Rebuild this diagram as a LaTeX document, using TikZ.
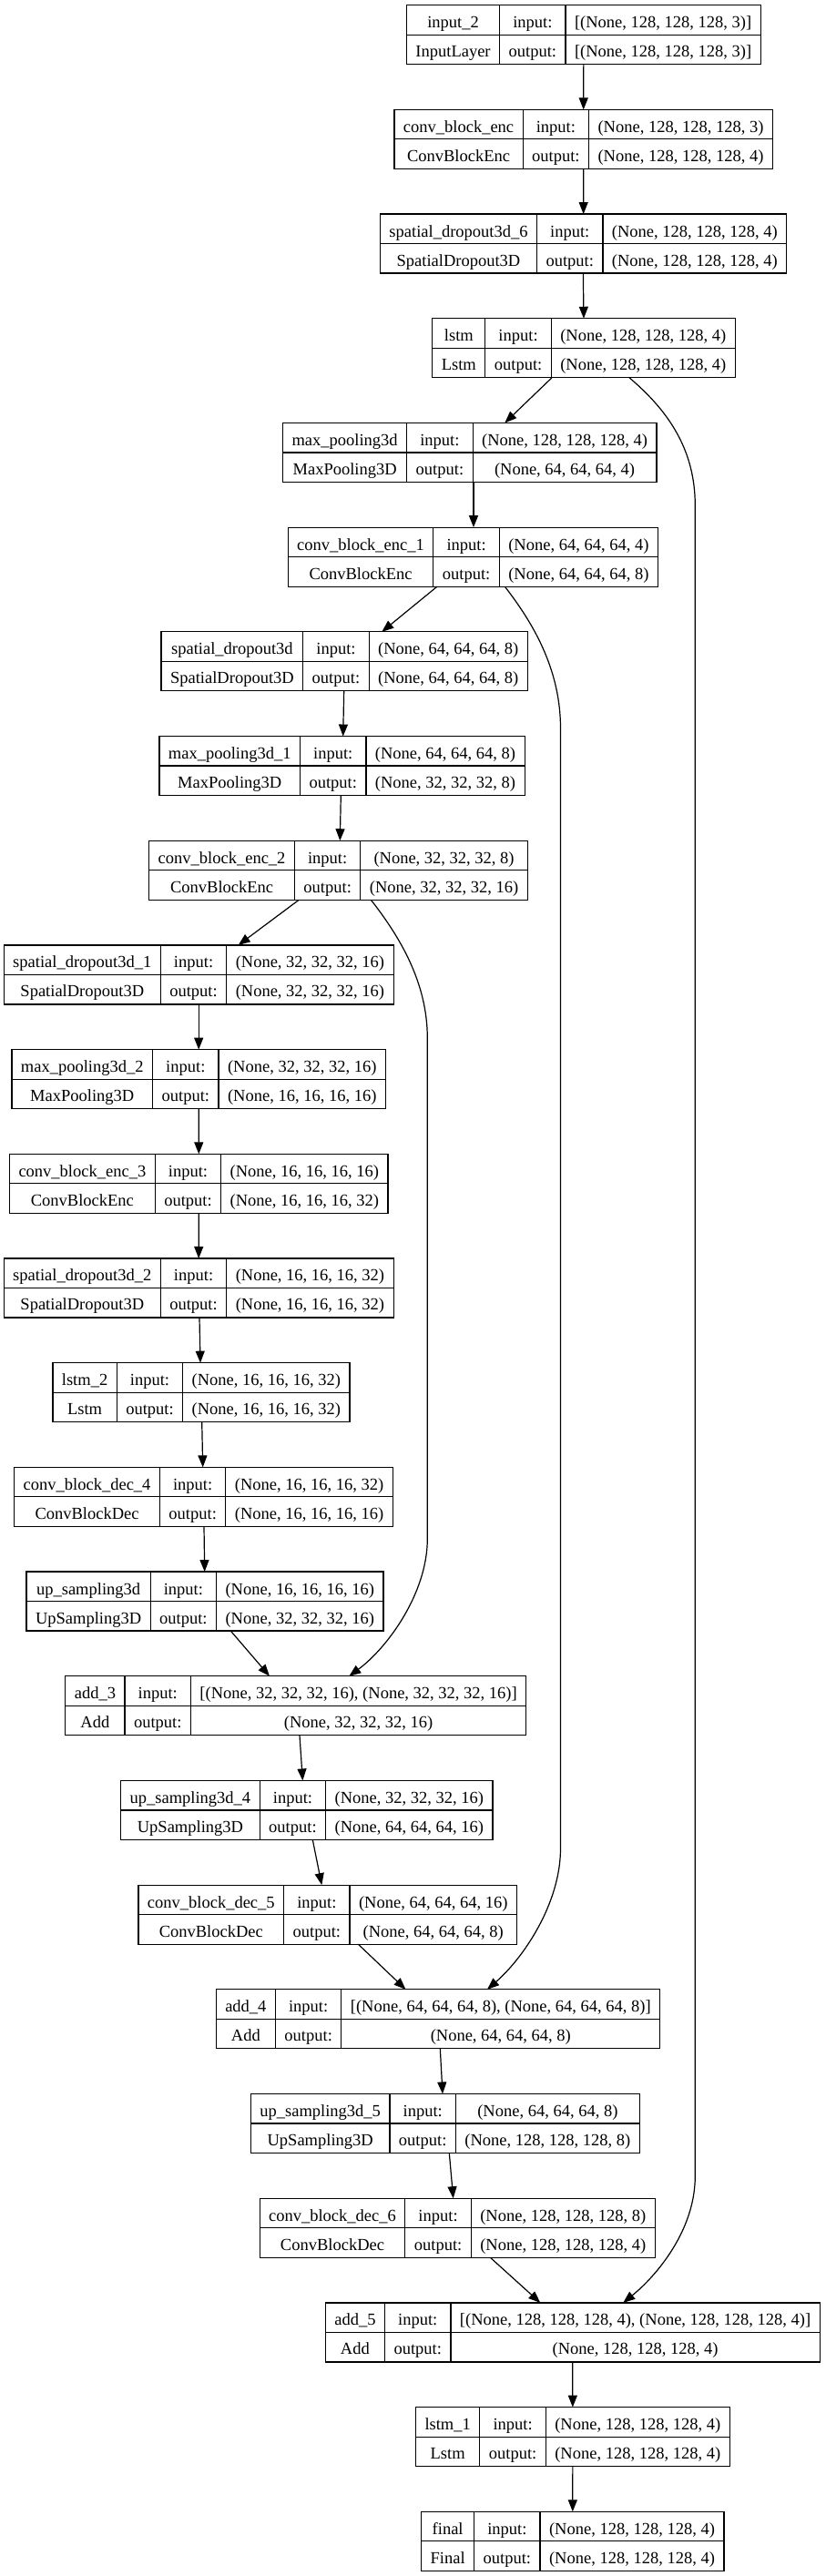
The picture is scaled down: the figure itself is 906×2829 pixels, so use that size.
\documentclass[tikz,border=0pt]{standalone}
\usepackage{fontspec}
\setmainfont{Liberation Serif}
\usetikzlibrary{arrows.meta}
\newlength\LwA \newlength\LwB \newlength\LwC \newlength\LwT \newlength\LwO
\newcommand\lfont{\fontsize{18.5}{22}\selectfont}
\tikzset{
  cell/.style={draw=black, line width=1.2pt},
  txt/.style={font=\lfont, inner sep=0pt, anchor=base},
  boxnode/.style={draw=black, line width=1.2pt, inner sep=0pt, outer sep=0pt, fill=white},
  edge/.style={draw=black, line width=1.2pt, -{Triangle[length=13pt,width=10pt]}},
}
% store texts and measure column widths (outside the picture)
\newcommand\layerdef[5]{%
  \expandafter\def\csname TN#1\endcsname{#2}%
  \expandafter\def\csname TC#1\endcsname{#3}%
  \expandafter\def\csname TI#1\endcsname{#4}%
  \expandafter\def\csname TO#1\endcsname{#5}%
  \settowidth\LwA{\lfont #2}\settowidth\LwB{\lfont #3}%
  \ifdim\LwB>\LwA \LwA=\LwB\fi
  \advance\LwA by 20pt
  \settowidth\LwC{\lfont #4}\settowidth\LwB{\lfont #5}%
  \ifdim\LwB>\LwC \LwC=\LwB\fi
  \advance\LwC by 20pt
  \expandafter\xdef\csname WA#1\endcsname{\the\LwA}%
  \expandafter\xdef\csname WC#1\endcsname{\the\LwC}%
}
% draw a layer box inside the picture
\newcommand\layer[3]{%
  \LwA=\csname WA#1\endcsname\relax
  \LwC=\csname WC#1\endcsname\relax
  \LwB=\LwO
  \LwT=\LwA \advance\LwT by \LwB \advance\LwT by \LwC
  \pgfmathsetmacro\Ltop{5.7+114.69*#3}%
  \pgfmathsetmacro\Lx{#2-0.5*\LwT}%
  \pgfmathsetmacro\La{\Lx+\LwA}%
  \pgfmathsetmacro\Lb{\La+\LwB}%
  \pgfmathsetmacro\Lc{\Lx+\LwT}%
  \node[boxnode, minimum width=\LwT, minimum height=65pt] (#1) at ({#2},{\Ltop+32.5}) {};
  \draw[cell] ({\Lx},{\Ltop+32.5}) -- ({\Lc},{\Ltop+32.5});
  \draw[cell] ({\La},{\Ltop}) -- ({\La},{\Ltop+65});
  \draw[cell] ({\Lb},{\Ltop}) -- ({\Lb},{\Ltop+65});
  \node[txt] (#1-n) at ({(\Lx+\La)/2},{\Ltop+25}) {\csname TN#1\endcsname};
  \node[txt] (#1-c) at ({(\Lx+\La)/2},{\Ltop+57}) {\csname TC#1\endcsname};
  \node[txt] (#1-i) at ({(\La+\Lb)/2},{\Ltop+25}) {input:};
  \node[txt] (#1-o) at ({(\La+\Lb)/2},{\Ltop+57}) {output:};
  \node[txt] (#1-s) at ({(\Lb+\Lc)/2},{\Ltop+25}) {\csname TI#1\endcsname};
  \node[txt] (#1-t) at ({(\Lb+\Lc)/2},{\Ltop+57}) {\csname TO#1\endcsname};
}
\begin{document}
\settowidth\LwO{\lfont output:}\advance\LwO by 20pt
\layerdef{in2}{input\_2}{InputLayer}{[(None, 128, 128, 128, 3)]}{[(None, 128, 128, 128, 3)]}
\layerdef{cbe}{conv\_block\_enc}{ConvBlockEnc}{(None, 128, 128, 128, 3)}{(None, 128, 128, 128, 4)}
\layerdef{sd6}{spatial\_dropout3d\_6}{SpatialDropout3D}{(None, 128, 128, 128, 4)}{(None, 128, 128, 128, 4)}
\layerdef{lstm}{lstm}{Lstm}{(None, 128, 128, 128, 4)}{(None, 128, 128, 128, 4)}
\layerdef{mp}{max\_pooling3d}{MaxPooling3D}{(None, 128, 128, 128, 4)}{(None, 64, 64, 64, 4)}
\layerdef{cbe1}{conv\_block\_enc\_1}{ConvBlockEnc}{(None, 64, 64, 64, 4)}{(None, 64, 64, 64, 8)}
\layerdef{sd}{spatial\_dropout3d}{SpatialDropout3D}{(None, 64, 64, 64, 8)}{(None, 64, 64, 64, 8)}
\layerdef{mp1}{max\_pooling3d\_1}{MaxPooling3D}{(None, 64, 64, 64, 8)}{(None, 32, 32, 32, 8)}
\layerdef{cbe2}{conv\_block\_enc\_2}{ConvBlockEnc}{(None, 32, 32, 32, 8)}{(None, 32, 32, 32, 16)}
\layerdef{sd1}{spatial\_dropout3d\_1}{SpatialDropout3D}{(None, 32, 32, 32, 16)}{(None, 32, 32, 32, 16)}
\layerdef{mp2}{max\_pooling3d\_2}{MaxPooling3D}{(None, 32, 32, 32, 16)}{(None, 16, 16, 16, 16)}
\layerdef{cbe3}{conv\_block\_enc\_3}{ConvBlockEnc}{(None, 16, 16, 16, 16)}{(None, 16, 16, 16, 32)}
\layerdef{sd2}{spatial\_dropout3d\_2}{SpatialDropout3D}{(None, 16, 16, 16, 32)}{(None, 16, 16, 16, 32)}
\layerdef{lstm2}{lstm\_2}{Lstm}{(None, 16, 16, 16, 32)}{(None, 16, 16, 16, 32)}
\layerdef{cbd4}{conv\_block\_dec\_4}{ConvBlockDec}{(None, 16, 16, 16, 32)}{(None, 16, 16, 16, 16)}
\layerdef{us}{up\_sampling3d}{UpSampling3D}{(None, 16, 16, 16, 16)}{(None, 32, 32, 32, 16)}
\layerdef{add3}{add\_3}{Add}{[(None, 32, 32, 32, 16), (None, 32, 32, 32, 16)]}{(None, 32, 32, 32, 16)}
\layerdef{us4}{up\_sampling3d\_4}{UpSampling3D}{(None, 32, 32, 32, 16)}{(None, 64, 64, 64, 16)}
\layerdef{cbd5}{conv\_block\_dec\_5}{ConvBlockDec}{(None, 64, 64, 64, 16)}{(None, 64, 64, 64, 8)}
\layerdef{add4}{add\_4}{Add}{[(None, 64, 64, 64, 8), (None, 64, 64, 64, 8)]}{(None, 64, 64, 64, 8)}
\layerdef{us5}{up\_sampling3d\_5}{UpSampling3D}{(None, 64, 64, 64, 8)}{(None, 128, 128, 128, 8)}
\layerdef{cbd6}{conv\_block\_dec\_6}{ConvBlockDec}{(None, 128, 128, 128, 8)}{(None, 128, 128, 128, 4)}
\layerdef{add5}{add\_5}{Add}{[(None, 128, 128, 128, 4), (None, 128, 128, 128, 4)]}{(None, 128, 128, 128, 4)}
\layerdef{lstm1}{lstm\_1}{Lstm}{(None, 128, 128, 128, 4)}{(None, 128, 128, 128, 4)}
\layerdef{final}{final}{Final}{(None, 128, 128, 128, 4)}{(None, 128, 128, 128, 4)}%
\begin{tikzpicture}[x=1pt,y=-1pt]
\fill[white] (0,0) rectangle (906,2829);
\useasboundingbox (0,0) rectangle (906,2829);

\layer{in2}{640.85}{0}
\layer{cbe}{640.7}{1}
\layer{sd6}{640.65}{2}
\layer{lstm}{641}{3}
\layer{mp}{515.8}{4}
\layer{cbe1}{519.3}{5}
\layer{sd}{378.2}{6}
\layer{mp1}{375.5}{7}
\layer{cbe2}{371.5}{8}
\layer{sd1}{218.2}{9}
\layer{mp2}{218.2}{10}
\layer{cbe3}{218.3}{11}
\layer{sd2}{218.2}{12}
\layer{lstm2}{221}{13}
\layer{cbd4}{223.5}{14}
\layer{us}{225}{15}
\layer{add3}{324.8}{16}
\layer{us4}{336.85}{17}
\layer{cbd5}{359.7}{18}
\layer{add4}{481}{19}
\layer{us5}{488.85}{20}
\layer{cbd6}{502.15}{21}
\layer{add5}{628.8}{22}
\layer{lstm1}{628.85}{23}
\layer{final}{628.8}{24}

% straight connectors
\draw[edge] (in2.south) -- (cbe.north);
\draw[edge] (cbe.south) -- (sd6.north);
\draw[edge] ([xshift=-0.3pt]sd6.south) -- (lstm.north);
\draw[edge] ([xshift=-35pt]lstm.south) -- ([xshift=38.5pt]mp.north);
\draw[edge] ([xshift=4.2pt]mp.south) -- ([xshift=0.7pt]cbe1.north);
\draw[edge] ([xshift=-39.3pt]cbe1.south) -- ([xshift=41.1pt]sd.north);
\draw[edge] ([xshift=-0.5pt]sd.south) -- ([xshift=1.2pt]mp1.north);
\draw[edge] ([xshift=-1.2pt]mp1.south) -- ([xshift=1.8pt]cbe2.north);
\draw[edge] ([xshift=-43.2pt]cbe2.south) -- ([xshift=43.5pt]sd1.north);
\draw[edge] (sd1.south) -- (mp2.north);
\draw[edge] (mp2.south) -- (cbe3.north);
\draw[edge] (cbe3.south) -- (sd2.north);
\draw[edge] ([xshift=0.8pt]sd2.south) -- ([xshift=-1pt]lstm2.north);
\draw[edge] ([xshift=0.7pt]lstm2.south) -- ([xshift=-0.8pt]cbd4.north);
\draw[edge] ([xshift=0.5pt]cbd4.south) -- ([xshift=-0.3pt]us.north);
\draw[edge] ([xshift=28.3pt]us.south) -- ([xshift=-28.8pt]add3.north);
\draw[edge] ([xshift=4.2pt]add3.south) -- ([xshift=-4.5pt]us4.north);
\draw[edge] ([xshift=6.45pt]us4.south) -- ([xshift=-6.4pt]cbd5.north);
\draw[edge] ([xshift=33.6pt]cbd5.south) -- ([xshift=-35.5pt]add4.north);
\draw[edge] ([xshift=2.3pt]add4.south) -- ([xshift=-2.85pt]us5.north);
\draw[edge] ([xshift=4.45pt]us5.south) -- ([xshift=-4.45pt]cbd6.north);
\draw[edge] ([xshift=36.15pt]cbd6.south) -- ([xshift=-35.5pt]add5.north);
\draw[edge] (add5.south) -- (lstm1.north);
\draw[edge] (lstm1.south) -- (final.north);

% skip connectors
\draw[edge] ([xshift=50pt]lstm.south) .. controls (735,452) and (763.3,495) .. (763.3,555)
  -- (763.3,2390) .. controls (763.3,2450) and (720,2500) .. ([xshift=55.5pt]add5.north);
\draw[edge] ([xshift=35pt]cbe1.south) .. controls (590,690) and (615.5,740) .. (615.5,800)
  -- (615.5,2030) .. controls (615.5,2090) and (575,2150) .. ([xshift=54pt]add4.north);
\draw[edge] ([xshift=35.8pt]cbe2.south) .. controls (440,1030) and (469.3,1080) .. (469.3,1140)
  -- (469.3,1690) .. controls (469.3,1750) and (425,1810) .. ([xshift=58.5pt]add3.north);
\end{tikzpicture}
\end{document}
